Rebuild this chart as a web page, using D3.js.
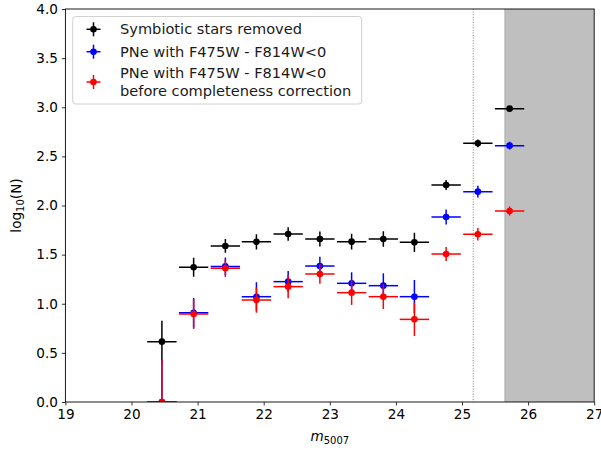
<!DOCTYPE html>
<html><head><meta charset="utf-8">
<script src="https://cdn.jsdelivr.net/npm/d3@7"></script>
<style>body{margin:0;background:#fff;} text{font-family:"DejaVu Sans",sans-serif;}</style>
</head><body>
<svg id="c" width="601" height="453"></svg>
<script>
const binCenters = [20.46, 20.94, 21.42, 21.89, 22.37, 22.85, 23.33, 23.81, 24.28, 24.76, 25.24, 25.72];
const binHalfWidth = 0.222;
const symbioticRemoved = [0.614, 1.371, 1.588, 1.63, 1.71, 1.659, 1.632, 1.659, 1.625, 2.209, 2.633, 2.986];
const symbioticErr = [0.214, 0.097, 0.07, 0.078, 0.068, 0.076, 0.08, 0.08, 0.098, 0.05, 0.04, 0.02];
const pneBlue = [0.0, 0.909, 1.38, 1.072, 1.225, 1.384, 1.208, 1.184, 1.072, 1.883, 2.141, 2.609];
const pneBlueErr = [0.43, 0.15, 0.09, 0.147, 0.109, 0.095, 0.112, 0.126, 0.17, 0.076, 0.06, 0.04];
const pneRed = [0.0, 0.896, 1.361, 1.038, 1.174, 1.303, 1.113, 1.072, 0.841, 1.506, 1.707, 1.944];
const pneRedErr = [0.435, 0.153, 0.09, 0.129, 0.118, 0.10, 0.125, 0.126, 0.17, 0.071, 0.063, 0.047];
const xTicks = [19, 20, 21, 22, 23, 24, 25, 26, 27];
const yTicks = [0.0, 0.5, 1.0, 1.5, 2.0, 2.5, 3.0, 3.5, 4.0];
const completenessLine = 25.17;
const shadedStart = 25.65;
const legendLabels = [["Symbiotic stars removed"], ["PNe with F475W - F814W<0"], ["PNe with F475W - F814W<0", "before completeness correction"]];

const svg = d3.select("#c");
const L = 65.4, R = 594.2, T = 9, B = 402;
const x = d3.scaleLinear().domain([19, 27]).range([L, R]);
const y = d3.scaleLinear().domain([0, 4]).range([B, T]);

svg.append("defs").append("clipPath").attr("id","clip").append("rect")
  .attr("x", L).attr("y", T).attr("width", R-L).attr("height", B-T);

const plot = svg.append("g").attr("clip-path","url(#clip)");
plot.append("rect").attr("x", x(shadedStart)).attr("y", T).attr("width", x(27)-x(shadedStart)).attr("height", B-T)
  .attr("fill", "#bfbfbf");
plot.append("line").attr("x1", x(shadedStart)).attr("x2", x(shadedStart)).attr("y1", T).attr("y2", B)
  .attr("stroke", "#b0b0b0").attr("stroke-width", 1.2);
plot.append("line").attr("x1", x(completenessLine)).attr("x2", x(completenessLine)).attr("y1", T).attr("y2", B)
  .attr("stroke", "#808080").attr("stroke-width", 1).attr("stroke-dasharray", "1,1.6");

function series(vals, errs, color) {
  const g = plot.append("g");
  binCenters.forEach((c, i) => {
    const v = vals[i], e = errs[i];
    g.append("line").attr("x1", x(c - binHalfWidth)).attr("x2", x(c + binHalfWidth))
      .attr("y1", y(v)).attr("y2", y(v)).attr("stroke", color).attr("stroke-width", 1.5);
    g.append("line").attr("x1", x(c)).attr("x2", x(c))
      .attr("y1", y(Math.max(0, v - e))).attr("y2", y(v + e)).attr("stroke", color).attr("stroke-width", 1.5);
    g.append("circle").attr("cx", x(c)).attr("cy", y(v)).attr("r", 3.3).attr("fill", color);
  });
}
series(symbioticRemoved, symbioticErr, "#000000");
series(pneBlue, pneBlueErr, "#0000ff");
series(pneRed, pneRedErr, "#ff0000");

// axes
const xAxis = svg.append("g").attr("transform", `translate(0,${B})`)
  .call(d3.axisBottom(x).tickValues(xTicks).tickFormat(d3.format("d")).tickSize(3.5).tickPadding(4));
const yAxis = svg.append("g").attr("transform", `translate(${L},0)`)
  .call(d3.axisLeft(y).tickValues(yTicks).tickFormat(d3.format(".1f")).tickSize(3.5).tickPadding(4));
[xAxis, yAxis].forEach(a => {
  a.selectAll("text").attr("font-size", 13.6).attr("fill", "#000").style("font-family", "DejaVu Sans");
  a.selectAll("line").attr("stroke", "#000").attr("stroke-width", 0.8);
  a.select(".domain").remove();
});
svg.append("rect").attr("x", L).attr("y", T).attr("width", R-L).attr("height", B-T)
  .attr("fill", "none").attr("stroke", "#000").attr("stroke-width", 0.9);

// axis labels
const xl = svg.append("text").attr("x", (L+R)/2).attr("y", 441).attr("text-anchor", "middle").attr("font-size", 13.6);
xl.append("tspan").text("m").attr("font-style", "italic");
xl.append("tspan").text("5007").attr("font-size", 10).attr("dy", 3);
const yl = svg.append("text").attr("transform", `translate(21,${(T+B)/2}) rotate(-90)`).attr("text-anchor", "middle").attr("font-size", 13.6);
yl.append("tspan").text("log");
yl.append("tspan").text("10").attr("font-size", 10).attr("dy", 3);
yl.append("tspan").text("(N)").attr("dy", -3);

// legend
const lg = svg.append("g");
lg.append("rect").attr("x", 72.7).attr("y", 16.5).attr("width", 289).attr("height", 87.5).attr("rx", 3)
  .attr("fill", "#fff").attr("fill-opacity", 0.8).attr("stroke", "#d0d0d0").attr("stroke-width", 1);
const legColors = ["#000000", "#0000ff", "#ff0000"];
const markerY = [29.3, 51.7, 82];
legendLabels.forEach((lines, i) => {
  const my = markerY[i], mx = 93.5, col = legColors[i];
  lg.append("line").attr("x1", mx-7).attr("x2", mx+7).attr("y1", my).attr("y2", my).attr("stroke", col).attr("stroke-width", 1.5);
  lg.append("line").attr("x1", mx).attr("x2", mx).attr("y1", my-7).attr("y2", my+7).attr("stroke", col).attr("stroke-width", 1.5);
  lg.append("circle").attr("cx", mx).attr("cy", my).attr("r", 3.3).attr("fill", col);
  const startY = lines.length === 1 ? my : my - 9.3;
  lines.forEach((t, j) => {
    lg.append("text").attr("x", 120).attr("y", startY + j*18).attr("dy", "0.35em").attr("font-size", 14.6).attr("fill", "#1a1a1a").text(t);
  });
});
</script>
</body></html>
